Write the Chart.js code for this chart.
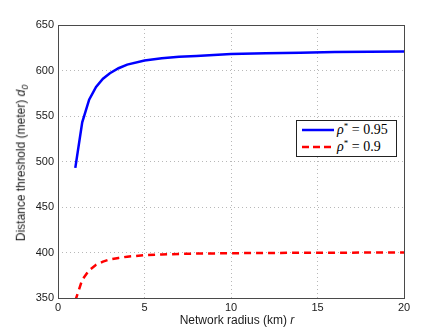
<!DOCTYPE html>
<html>
<head>
<meta charset="utf-8">
<script src="https://cdn.jsdelivr.net/npm/chart.js@4.4.1/dist/chart.umd.min.js"></script>
<style>
    html, body { margin: 0; padding: 0; background: #fff; }
    #wrap { position: relative; width: 446px; height: 335px; }
    .axis-title { position: absolute; font-family: "Liberation Sans", Arial, sans-serif; font-size: 12px; color: #1a1a1a; white-space: nowrap; }
    #ytitle { left: 22px; top: 163px; transform: translate(-50%, -50%) rotate(-90deg); }
    #xtitle { left: 237px; top: 320px; transform: translate(-50%, -50%); }
    #legend { position: absolute; left: 296px; top: 120px; width: 99px; height: 35px; border: 1px solid #222; background: #fff;
              font-family: "Liberation Serif", "DejaVu Serif", serif; font-size: 14px; color: #000; }
    .row { position: absolute; left: 5px; height: 16px; display: flex; align-items: center; white-space: nowrap; line-height: 16px; }
    .row svg { margin-right: 3px; }
    .row sup { font-size: 9px; line-height: 0; vertical-align: 5px; }
</style>
</head>
<body>
<div id="wrap">
    <canvas id="chart" width="446" height="335"></canvas>
    <div class="axis-title" id="ytitle">Distance threshold (meter) <i>d<sub style="font-size:9px">0</sub></i></div>
    <div class="axis-title" id="xtitle">Network radius (km) <i>r</i></div>
    <div id="legend">
        <div class="row" style="top:1px">
            <svg width="32" height="6"><line x1="0" y1="3" x2="32" y2="3" stroke="#0000ff" stroke-width="2.5"/></svg>
            <span><i>ρ</i><sup>*</sup> = 0.95</span>
        </div>
        <div class="row" style="top:18px">
            <svg width="32" height="6"><line x1="0" y1="3" x2="32" y2="3" stroke="#ff0000" stroke-width="2.5" stroke-dasharray="7,4"/></svg>
            <span><i>ρ</i><sup>*</sup> = 0.9</span>
        </div>
    </div>
</div>
<script>
// network radius r (km)
const radius = [1, 1.4, 1.8, 2.2, 2.6, 3, 3.5, 4, 5, 6, 7, 8, 10, 12, 14, 16, 18, 20];
// distance threshold d0 (meter), rho* = 0.95
const rho095 = [493, 543, 568, 582, 591, 597, 602.5, 606.5, 611, 613.5, 615, 616, 618, 619, 619.6, 620.2, 620.6, 621];
// distance threshold d0 (meter), rho* = 0.9
const rho09 = [347, 370, 380.5, 386.5, 390, 392.4, 394, 395.4, 397, 397.8, 398.4, 398.8, 399.2, 399.5, 399.7, 399.8, 399.9, 400];

const xTicks = [0, 5, 10, 15, 20];
const yTicks = [350, 400, 450, 500, 550, 600, 650];

function toPoints(values) {
    return radius.map((r, i) => ({ x: r, y: values[i] }));
}

// draw the box round the plot area
const framePlugin = {
    id: 'frame',
    afterDraw(chart) {
        const { ctx, chartArea } = chart;
        ctx.save();
        ctx.strokeStyle = '#4a4a4a';
        ctx.lineWidth = 1;
        ctx.strokeRect(chartArea.left + 0.5, chartArea.top + 0.5,
            chartArea.right - chartArea.left, chartArea.bottom - chartArea.top);
        ctx.restore();
    }
};

const tickFont = { family: '"Liberation Sans", Arial, sans-serif', size: 11 };

new Chart(document.getElementById('chart'), {
    type: 'line',
    data: {
        datasets: [
            {
                label: 'rho* = 0.95',
                data: toPoints(rho095),
                borderColor: '#0000ff',
                borderWidth: 2.5,
                pointRadius: 0,
                tension: 0
            },
            {
                label: 'rho* = 0.9',
                data: toPoints(rho09),
                borderColor: '#ff0000',
                borderWidth: 2.5,
                borderDash: [7, 5],
                pointRadius: 0,
                tension: 0
            }
        ]
    },
    options: {
        responsive: false,
        animation: false,
        devicePixelRatio: 1,
        layout: { padding: { top: 25, right: 42, left: 0, bottom: 0 } },
        plugins: { legend: { display: false }, tooltip: { enabled: false } },
        scales: {
            x: {
                type: 'linear',
                min: 0,
                max: 20,
                afterFit: scale => { scale.height = 37; },
                afterBuildTicks: scale => { scale.ticks = xTicks.map(v => ({ value: v })); },
                ticks: { font: tickFont, color: '#1a1a1a', padding: 3, maxRotation: 0 },
                grid: { color: '#b8b8b8', lineWidth: 1, drawTicks: false },
                border: { display: false, dash: [1, 3] }
            },
            y: {
                min: 350,
                max: 650,
                afterFit: scale => { scale.width = 58; },
                afterBuildTicks: scale => { scale.ticks = yTicks.map(v => ({ value: v })); },
                ticks: { font: tickFont, color: '#1a1a1a', padding: 4 },
                grid: { color: '#b8b8b8', lineWidth: 1, drawTicks: false },
                border: { display: false, dash: [1, 3] }
            }
        }
    },
    plugins: [framePlugin]
});
</script>
</body>
</html>
